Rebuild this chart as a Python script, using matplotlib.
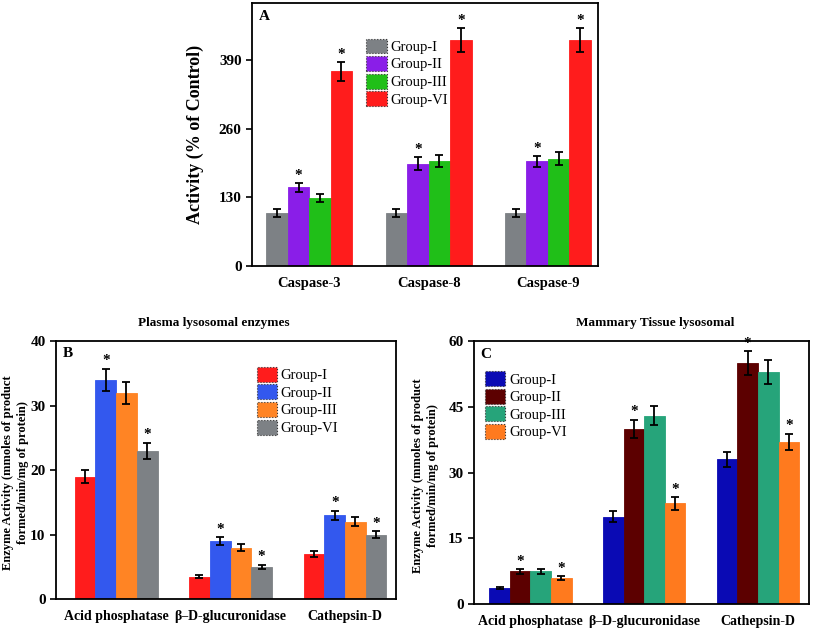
import matplotlib
matplotlib.use("Agg")
import matplotlib.pyplot as plt
import numpy as np
from matplotlib.patches import Patch

plt.rcParams['font.family'] = ['Liberation Serif', 'DejaVu Serif']

groups = ["Group-I", "Group-II", "Group-III", "Group-VI"]

# Panel A
a_cats = ["Caspase-3", "Caspase-8", "Caspase-9"]
a_vals = [[100, 100, 100], [149, 194, 198], [129, 199, 203], [369, 428, 428]]
a_errs = [[7, 7, 7], [9, 12, 11], [8, 12, 12], [18, 22, 22]]
a_star = [[0, 0, 0], [1, 1, 1], [0, 0, 0], [1, 1, 1]]
a_colors = ["#7d8185", "#8a1ee8", "#20bf18", "#ff1c1c"]
a_yticks = [0, 130, 260, 390]

# Panel B
b_cats = ["Acid phosphatase", "β–D-glucuronidase", "Cathepsin-D"]
b_vals = [[19, 3.5, 7], [34, 9, 13], [32, 8, 12], [23, 5, 10]]
b_errs = [[1.0, 0.25, 0.5], [1.7, 0.6, 0.7], [1.7, 0.5, 0.7], [1.2, 0.3, 0.5]]
b_star = [[0, 0, 0], [1, 1, 1], [0, 0, 0], [1, 1, 1]]
b_colors = ["#ff1c1c", "#3358ee", "#ff8424", "#7d8185"]
b_yticks = [0, 10, 20, 30, 40]

# Panel C
c_cats = ["Acid phosphatase", "β–D-glucuronidase", "Cathepsin-D"]
c_vals = [[3.7, 20, 33], [7.5, 40, 55], [7.5, 43, 53], [6, 23, 37]]
c_errs = [[0.3, 1.2, 1.7], [0.5, 2.0, 2.7], [0.5, 2.2, 2.7], [0.4, 1.4, 1.8]]
c_star = [[0, 0, 0], [1, 1, 1], [0, 0, 0], [1, 1, 1]]
c_colors = ["#0a0ab4", "#5c0000", "#26a47a", "#ff7a1e"]
c_yticks = [0, 15, 30, 45, 60]

W, H = 813, 628
fig = plt.figure(figsize=(W / 100, H / 100), dpi=100)


def rect(l, t, r, b):
    return [l / W, 1 - b / H, (r - l) / W, (b - t) / H]


def panel(ax, cats, vals, errs, stars, colors, yticks, ylim, xlim, bw,
          letter, tick_fs, xtick_fs, star_off):
    x = np.arange(len(cats))
    n = len(vals)
    for i in range(n):
        pos = x + (i - (n - 1) / 2) * bw
        ax.bar(pos, vals[i], width=bw, color=colors[i], edgecolor=colors[i],
               linewidth=0.6, zorder=2)
        ax.errorbar(pos, vals[i], yerr=errs[i], fmt='none', ecolor='black',
                    elinewidth=1.3, capsize=3, capthick=1.3, zorder=3)
        for j in range(len(cats)):
            if stars[i][j]:
                ax.text(pos[j], vals[i][j] + errs[i][j] + star_off, "*",
                        ha='center', va='bottom', fontsize=11,
                        fontweight='bold')
    ax.set_xlim(*xlim)
    ax.set_ylim(*ylim)
    ax.set_xticks(x)
    ax.set_xticklabels(cats, fontweight='bold', fontsize=xtick_fs)
    ax.tick_params(axis='x', length=0, pad=8)
    ax.set_yticks(yticks)
    ax.set_yticklabels([str(t) for t in yticks], fontweight='bold',
                       fontsize=tick_fs)
    ax.tick_params(axis='y', direction='out', length=4, width=1.2)
    for s in ax.spines.values():
        s.set_linewidth(1.3)
    ax.text(0.02, 0.975, letter, transform=ax.transAxes, ha='left', va='top',
            fontsize=11, fontweight='bold')


def leg(ax, colors, anchor, fs):
    handles = [Patch(facecolor=c, edgecolor='#333333', linewidth=0.8,
                     linestyle=':') for c in colors]
    ax.legend(handles, groups, loc='upper left', bbox_to_anchor=anchor,
              frameon=False, fontsize=fs, handlelength=1.4,
              handleheight=1.2, handletextpad=0.25, labelspacing=0.15,
              borderaxespad=0, borderpad=0)


axA = fig.add_axes(rect(252, 3, 598, 266))
panel(axA, a_cats, a_vals, a_errs, a_star, a_colors, a_yticks, (0, 498),
      (-0.48, 2.42), 0.18, "A", 11, 10.5, 2)
axA.set_ylabel("Activity (% of Control)", fontweight='bold', fontsize=13)
axA.yaxis.set_label_coords(-0.14, 0.5)
leg(axA, a_colors, (0.33, 0.865), 10.5)

axB = fig.add_axes(rect(56, 341, 396, 599.3))
panel(axB, b_cats, b_vals, b_errs, b_star, b_colors, b_yticks, (0, 40),
      (-0.525, 2.445), 0.181, "B", 11, 10, 0.25)
axB.set_ylabel("Enzyme Activity (mmoles of product\nformed/min/mg of protein)",
               fontweight='bold', fontsize=9, linespacing=1.3)
axB.yaxis.set_label_coords(-0.08, 0.49)
axB.set_title("Plasma lysosomal enzymes", fontweight='bold', fontsize=9.5,
              pad=0, x=0.465, y=1.045, va='bottom')
leg(axB, b_colors, (0.59, 0.9), 10.5)

axC = fig.add_axes(rect(474, 341, 809, 604.3))
panel(axC, c_cats, c_vals, c_errs, c_star, c_colors, c_yticks, (0, 60),
      (-0.496, 2.449), 0.181, "C", 11, 10, 0.35)
axC.set_ylabel("Enzyme Activity (mmoles of product\nformed/min/mg of protein)",
               fontweight='bold', fontsize=9, linespacing=1.3)
axC.yaxis.set_label_coords(-0.105, 0.49)
axC.set_title("Mammary Tissue lysosomal", fontweight='bold', fontsize=9.5,
              pad=0, x=0.54, y=1.045, va='bottom')
leg(axC, c_colors, (0.033, 0.885), 10.5)

fig.savefig("out.png", dpi=100)
